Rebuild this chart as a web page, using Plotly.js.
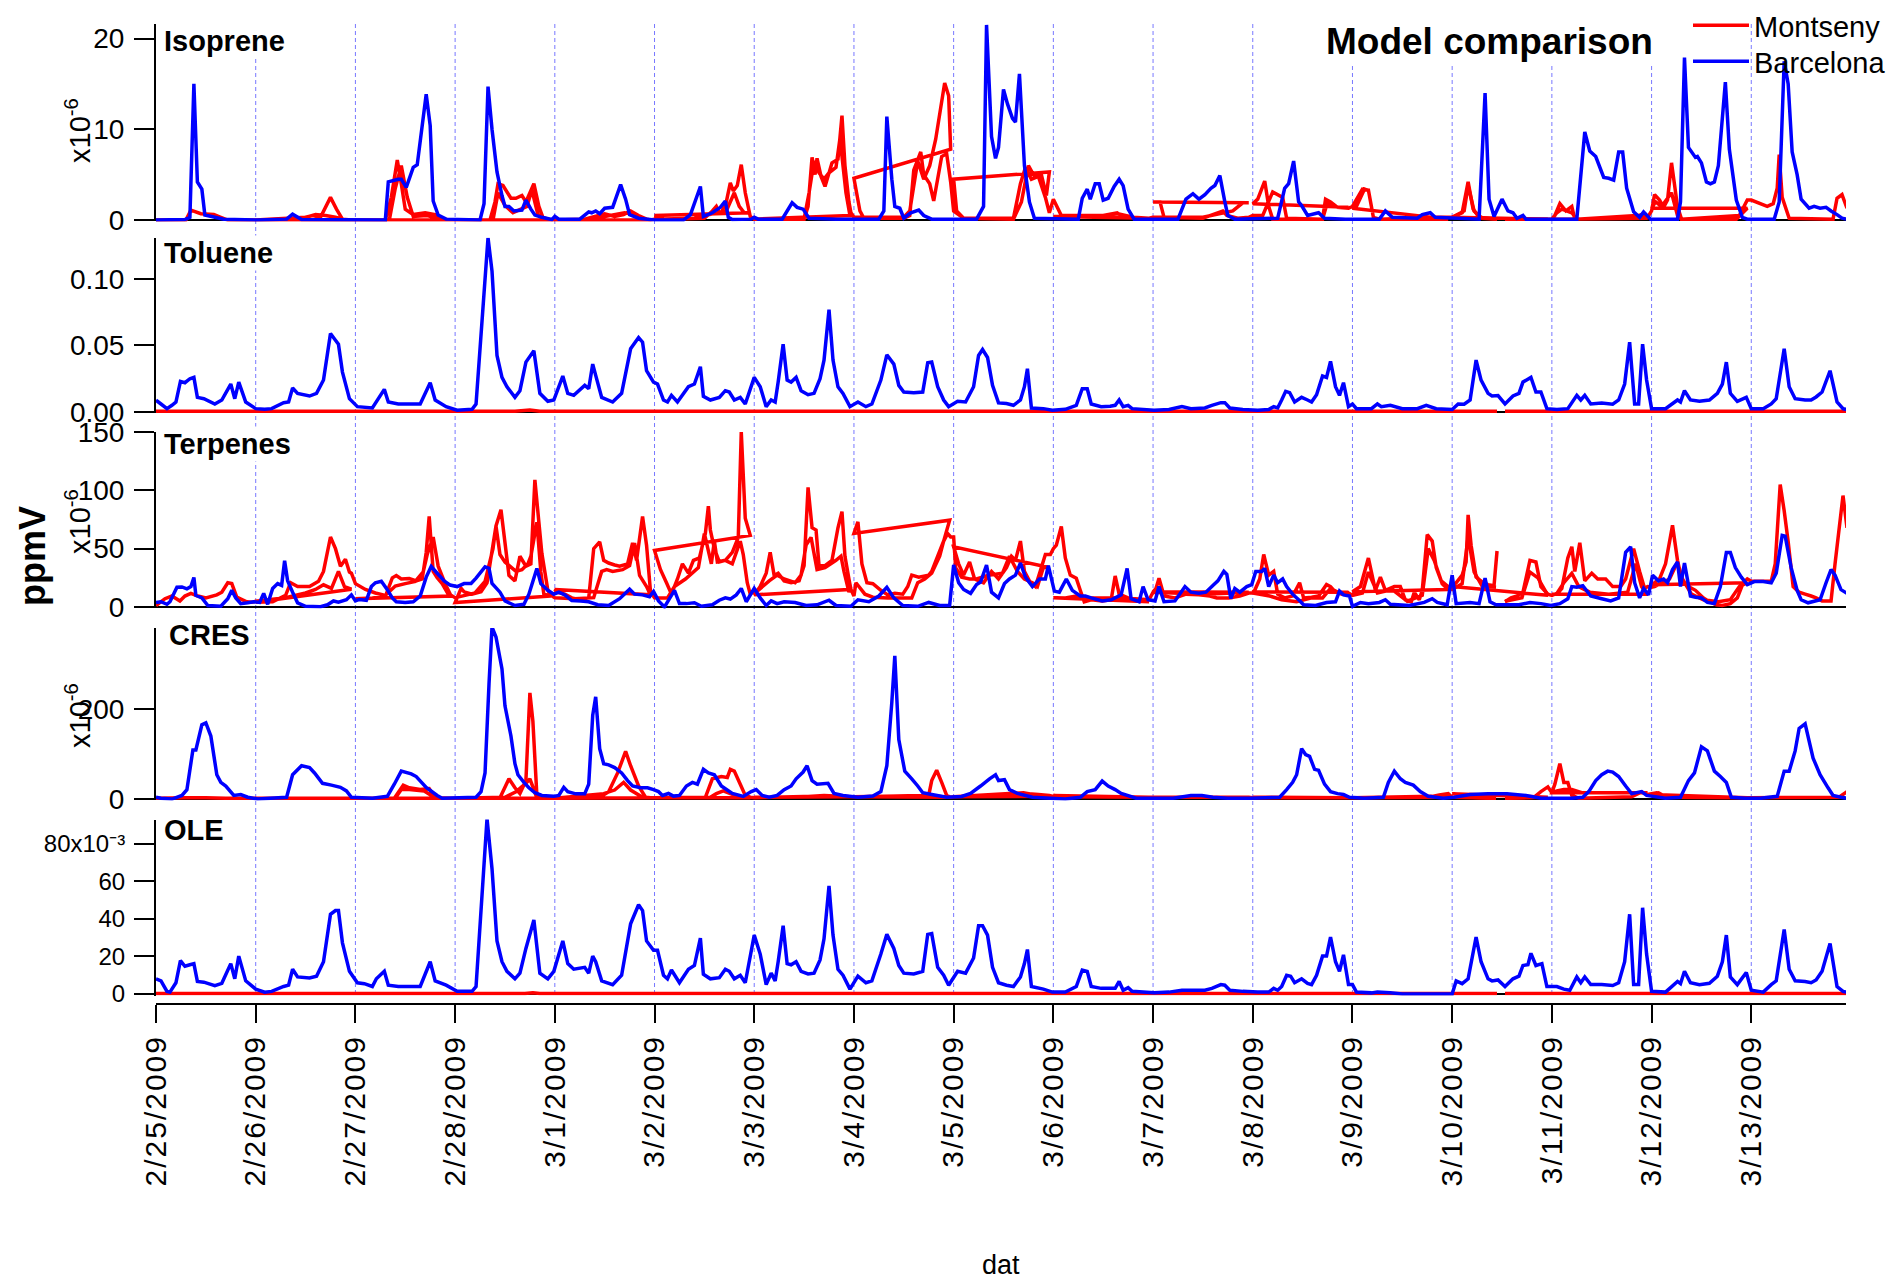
<!DOCTYPE html>
<html><head><meta charset="utf-8">
<script src="https://cdn.plot.ly/plotly-3.0.1.min.js"></script>
<style>html,body{margin:0;padding:0;background:#fff}
.xtick text{letter-spacing:2px}</style>
</head><body>
<div id="chart" style="width:1896px;height:1284px"></div>
<script>
// ---------------- DATA (time in days since 2/25/2009 00:00) ----------------
const dayTicks = ['2/25/2009','2/26/2009','2/27/2009','2/28/2009','3/1/2009','3/2/2009','3/3/2009','3/4/2009','3/5/2009','3/6/2009','3/7/2009','3/8/2009','3/9/2009','3/10/2009','3/11/2009','3/12/2009','3/13/2009'];
const panelNames = ['Isoprene','Toluene','Terpenes','CRES','OLE'];
const seriesNames = ['Montseny','Barcelona'];

// Isoprene (x10^-6 ppmV)
const isoBcn = [[0,0],[0.29,0.05],[0.34,0.3],[0.38,15.0],[0.415,4.2],[0.46,3.4],[0.49,0.55],[0.68,0.1],[1.02,0],[1.31,0.1],[1.37,0.65],[1.46,0.05],[2.30,0],[2.33,4.2],[2.43,4.5],[2.46,4.5],[2.51,3.6],[2.58,5.8],[2.62,6.1],[2.71,13.85],[2.75,10.4],[2.78,2.1],[2.83,0.55],[2.91,0.1],[3.25,0],[3.29,1.8],[3.33,14.7],[3.37,10.0],[3.42,5.3],[3.47,2.7],[3.50,1.5],[3.54,1.5],[3.59,1.0],[3.67,1.1],[3.71,2.2],[3.76,1.2],[3.80,0.55],[3.87,0.3],[3.97,0.05],[4.0,0.4],[4.04,0.1],[4.25,0.1],[4.34,0.9],[4.37,0.8],[4.41,1.0],[4.45,0.7],[4.50,1.3],[4.58,1.4],[4.66,3.9],[4.71,2.3],[4.75,0.6],[4.84,0.2],[5.0,0],[5.29,0],[5.36,0.6],[5.46,3.7],[5.49,0.4],[5.58,0.8],[5.66,1.4],[5.71,2.1],[5.74,0.3],[5.78,0.05],[5.97,0.1],[6.0,0.3],[6.04,0.1],[6.28,0.1],[6.38,1.9],[6.43,1.4],[6.49,1.2],[6.55,0.2],[6.82,0.1],[7.25,0.1],[7.30,1.0],[7.33,11.4],[7.38,4.5],[7.41,1.5],[7.46,1.3],[7.50,0.2],[7.57,0.8],[7.65,1.1],[7.70,0.5],[7.78,0.1],[8.23,0.1],[8.30,1.5],[8.33,21.5],[8.38,9.2],[8.42,6.8],[8.45,8.0],[8.50,14.4],[8.54,12.8],[8.59,11.2],[8.62,10.8],[8.66,16.1],[8.71,6.0],[8.76,2.0],[8.81,0.2],[9.25,0.1],[9.29,2.4],[9.34,3.4],[9.37,2.3],[9.42,4.0],[9.46,4.0],[9.50,2.2],[9.55,2.4],[9.61,3.7],[9.66,4.5],[9.70,3.8],[9.75,1.2],[9.81,0.1],[10.25,0.1],[10.33,2.3],[10.40,2.9],[10.46,2.3],[10.52,2.8],[10.58,3.5],[10.62,3.8],[10.67,4.9],[10.72,2.0],[10.75,0.5],[10.82,0.1],[11.25,0.2],[11.32,3.5],[11.36,4.0],[11.41,6.5],[11.46,2.0],[11.49,1.6],[11.55,0.5],[11.66,0.8],[11.72,0.2],[11.93,0.1],[12.27,0.1],[12.33,1.0],[12.40,0.3],[12.65,0.2],[12.70,0.6],[12.78,0.8],[12.83,0.3],[13.27,0.1],[13.33,14.0],[13.37,2.3],[13.42,0.4],[13.50,2.3],[13.56,1.0],[13.61,0.8],[13.65,0.2],[13.71,0.5],[13.74,0.1],[14.25,0.1],[14.33,9.7],[14.38,7.6],[14.44,7.0],[14.52,4.7],[14.57,4.6],[14.62,4.4],[14.67,7.5],[14.71,7.5],[14.75,3.5],[14.82,0.9],[14.88,0.3],[14.92,0.9],[14.99,0.1],[15.26,0.1],[15.29,2.0],[15.33,17.9],[15.37,8.0],[15.44,6.9],[15.46,7.0],[15.50,6.3],[15.55,4.2],[15.59,4.0],[15.63,4.2],[15.67,6.0],[15.74,15.2],[15.78,7.8],[15.85,2.2],[15.91,0.3],[15.96,0.1],[16.23,0.1],[16.28,2.0],[16.33,17.5],[16.37,15.0],[16.41,7.5],[16.46,5.0],[16.50,2.3],[16.58,1.3],[16.63,1.5],[16.69,1.3],[16.75,1.4],[16.80,1.0],[16.86,0.6],[16.91,0.2],[16.96,0.1]];
// Montseny model: first-day and second-day forecast of each daily 48 h run
const isoMontDay1 = [[0,0],[0.3,0],[0.35,1.1],[0.45,0.7],[0.58,0.6],[0.65,0.3],[0.72,0],[0.96,0],[1,0],[1.4,0],[1.46,0.2],[1.57,0.5],[1.65,0.3],[1.75,2.5],[1.81,1.2],[1.87,0.1],[1.96,0],[2,0],[2.3,0],[2.36,2.5],[2.42,6.6],[2.46,4],[2.5,1.2],[2.58,0.6],[2.7,0.8],[2.8,0.6],[2.88,0.1],[2.96,0],[3,0],[3.35,0],[3.4,2],[3.43,4],[3.48,3.8],[3.56,2.4],[3.61,2.4],[3.67,2.7],[3.71,2],[3.79,4],[3.84,1.5],[3.88,0.3],[3.96,0],[4,0],[4.3,0.1],[4.5,0.7],[4.6,0.4],[4.69,0.6],[4.76,1],[4.84,0.5],[4.92,0.1],[4.96,0],[5,0.5],[5.1,0.1],[5.5,0.2],[5.58,1],[5.62,1.5],[5.66,0.6],[5.72,2],[5.76,4.1],[5.79,3.2],[5.83,3.8],[5.87,6.1],[5.91,3],[5.96,0.4],[6,0.1],[6.5,0.1],[6.54,1.5],[6.58,6.9],[6.61,5],[6.63,6.8],[6.67,4.8],[6.71,3.7],[6.78,6.3],[6.84,6.7],[6.88,11.5],[6.91,6],[6.95,2],[6.97,0.8],[7,4.6],[7.06,1],[7.1,0.2],[7.5,0.2],[7.56,0.5],[7.6,5.5],[7.67,7.5],[7.7,5],[7.76,4],[7.8,2.1],[7.88,7],[7.93,7.3],[7.97,4.2],[8,4.5],[8.03,1],[8.1,0.2],[8.6,0.2],[8.67,4],[8.72,5.8],[8.78,4.5],[8.85,4.8],[8.92,2.5],[8.96,0.8],[9,0.4],[9.5,0.5],[9.64,0.8],[9.7,0.3],[9.96,0.2],[10,2],[10.07,2],[10.11,0.3],[10.5,0.2],[10.7,1],[10.74,0.5],[10.85,0.2],[10.96,0.3],[11,1.8],[11.05,2.3],[11.12,4.3],[11.16,1.5],[11.2,0.1],[11.7,0.1],[11.73,2.3],[11.78,2],[11.85,1.4],[11.96,1.3],[12,1.3],[12.04,1.5],[12.12,3.4],[12.16,3.3],[12.21,0.3],[12.27,0.1],[12.84,0.3],[12.96,0.3],[13,0.3],[13.12,1],[13.16,3.8],[13.22,1],[13.3,0.2],[13.45,0.1],[13.49,null],[13.53,0.1],[13.96,0.1],[14,0.1],[14.05,0.8],[14.1,1.2],[14.2,0.8],[14.25,0.1],[14.85,0.5],[14.96,0.3],[15,1.3],[15.04,2],[15.1,1.5],[15.2,3],[15.26,0.5],[15.3,0.1],[15.88,0.5],[15.96,2.2],[16,2.2],[16.16,1.5],[16.22,1.8],[16.26,3.5],[16.28,7.2],[16.31,2.5],[16.38,0.2],[16.82,0.1],[16.86,2.4],[16.91,2.8],[16.96,1.3]];
const isoMontDay2 = [[1,0],[1.5,0.3],[1.6,0.6],[1.7,0.5],[1.8,0.3],[1.9,0],[1.96,0],[2,0],[2.34,0],[2.4,3.5],[2.46,6],[2.52,2.5],[2.58,0.4],[2.72,0.5],[2.85,0.1],[2.96,0],[3,0],[3.38,0],[3.43,3],[3.5,1.6],[3.58,0.8],[3.66,1.2],[3.72,1.5],[3.77,3.3],[3.83,0.6],[3.9,0],[3.96,0],[4,0],[4.35,0.1],[4.5,0.4],[4.7,0.8],[4.8,0.6],[4.9,0.1],[4.96,0],[5,0.1],[5.4,0.2],[5.55,0.6],[5.65,0.8],[5.72,1],[5.8,3],[5.85,1.5],[5.9,0.8],[5.96,0.8],[6,0.1],[6.5,0.1],[6.55,3],[6.6,6.5],[6.65,5.2],[6.7,4.5],[6.75,5.2],[6.82,5.8],[6.86,9],[6.92,3],[6.96,0.5],[7,0.3],[7.5,0.3],[7.56,1],[7.64,6.5],[7.7,4.5],[7.76,6],[7.82,8.9],[7.91,15.1],[7.95,13.7],[7.97,7.8],[8,1],[8.1,0.2],[8.6,0.1],[8.68,2],[8.75,6],[8.8,5],[8.88,5],[8.93,2.7],[8.96,5.3],[9,2.3],[9.08,0.5],[9.5,0.5],[9.65,0.7],[9.8,0.3],[9.96,0.2],[10,0.3],[10.5,0.3],[10.8,1],[10.9,1.9],[10.96,1.9],[11,0.5],[11.1,0.5],[11.2,3.1],[11.3,2.5],[11.34,0.2],[11.7,0.1],[11.75,2],[11.85,1.4],[11.96,1.4],[12,1.5],[12.1,3.4],[12.16,3.3],[12.21,0.3],[12.27,0.1],[12.96,0.1],[13,0.3],[13.1,0.8],[13.16,4.2],[13.21,1.2],[13.27,0.3],[13.45,0.1],[13.49,null],[13.53,0.1],[13.96,0.1],[14,0.1],[14.03,0.5],[14.08,1.8],[14.14,1],[14.2,1.5],[14.23,0.1],[14.8,0.3],[14.9,0.6],[14.96,0.2],[15,1],[15.03,2.8],[15.08,2.2],[15.12,1.4],[15.16,2.2],[15.2,6.3],[15.26,1.5],[15.3,0.1],[15.85,0.1],[15.96,1.3]];

// Toluene (ppmV)
const tolBcn = [[0,0.0088],[0.05,0.006],[0.11,0.0025],[0.16,0.005],[0.2,0.0075],[0.245,0.023],[0.29,0.022],[0.34,0.025],[0.38,0.026],[0.415,0.011],[0.48,0.010],[0.59,0.006],[0.66,0.009],[0.75,0.021],[0.79,0.010],[0.83,0.0225],[0.9,0.0075],[1.0,0.0025],[1.09,0.002],[1.16,0.0025],[1.28,0.007],[1.33,0.0075],[1.37,0.018],[1.42,0.014],[1.54,0.012],[1.61,0.014],[1.68,0.024],[1.75,0.059],[1.8,0.054],[1.83,0.051],[1.87,0.030],[1.94,0.010],[2.02,0.004],[2.17,0.003],[2.29,0.017],[2.33,0.0075],[2.43,0.006],[2.65,0.006],[2.75,0.022],[2.8,0.009],[2.91,0.004],[3.02,0.0013],[3.17,0.002],[3.21,0.006],[3.33,0.131],[3.37,0.106],[3.42,0.0425],[3.47,0.026],[3.52,0.019],[3.6,0.011],[3.65,0.016],[3.71,0.0375],[3.79,0.046],[3.85,0.014],[3.93,0.008],[3.99,0.009],[4.08,0.027],[4.13,0.014],[4.19,0.0125],[4.3,0.02],[4.34,0.0175],[4.38,0.036],[4.41,0.0275],[4.47,0.011],[4.58,0.0075],[4.67,0.014],[4.76,0.0475],[4.84,0.056],[4.88,0.0525],[4.92,0.031],[4.99,0.0225],[5.03,0.021],[5.09,0.009],[5.13,0.0075],[5.17,0.0125],[5.23,0.0075],[5.34,0.019],[5.4,0.021],[5.46,0.034],[5.49,0.0118],[5.56,0.009],[5.65,0.011],[5.71,0.016],[5.75,0.015],[5.8,0.009],[5.86,0.011],[5.91,0.006],[6.0,0.026],[6.06,0.019],[6.12,0.004],[6.17,0.009],[6.21,0.0075],[6.24,0.0225],[6.29,0.051],[6.33,0.024],[6.37,0.0225],[6.42,0.026],[6.47,0.016],[6.54,0.013],[6.6,0.014],[6.66,0.025],[6.7,0.039],[6.75,0.077],[6.79,0.039],[6.84,0.019],[6.89,0.014],[6.96,0.004],[7.04,0.0075],[7.12,0.004],[7.18,0.006],[7.27,0.024],[7.33,0.043],[7.4,0.036],[7.45,0.02],[7.5,0.015],[7.6,0.0145],[7.69,0.015],[7.74,0.037],[7.78,0.0375],[7.84,0.019],[7.9,0.009],[7.95,0.004],[8.04,0.008],[8.12,0.0075],[8.2,0.019],[8.25,0.0425],[8.29,0.047],[8.34,0.041],[8.39,0.02],[8.45,0.0068],[8.53,0.0063],[8.6,0.005],[8.67,0.009],[8.71,0.019],[8.74,0.0325],[8.78,0.003],[8.9,0.0025],[8.99,0.0013],[9.12,0.002],[9.23,0.005],[9.29,0.0175],[9.34,0.0175],[9.38,0.006],[9.48,0.004],[9.57,0.0043],[9.62,0.005],[9.66,0.009],[9.7,0.004],[9.75,0.005],[9.79,0.0025],[10.01,0.0013],[10.16,0.0018],[10.29,0.004],[10.38,0.0025],[10.52,0.003],[10.59,0.005],[10.68,0.007],[10.72,0.007],[10.77,0.003],[10.9,0.0018],[11.05,0.0013],[11.16,0.0018],[11.21,0.004],[11.25,0.003],[11.29,0.009],[11.33,0.0155],[11.37,0.0145],[11.42,0.0075],[11.49,0.011],[11.55,0.009],[11.59,0.0075],[11.64,0.013],[11.7,0.027],[11.74,0.026],[11.78,0.038],[11.83,0.019],[11.87,0.0125],[11.91,0.022],[11.96,0.004],[12.0,0.006],[12.04,0.0025],[12.19,0.0025],[12.25,0.006],[12.29,0.004],[12.38,0.005],[12.5,0.0025],[12.65,0.0025],[12.74,0.005],[12.84,0.0025],[13.0,0.0018],[13.06,0.006],[13.12,0.0058],[13.18,0.009],[13.24,0.039],[13.29,0.024],[13.36,0.014],[13.4,0.012],[13.46,0.0123],[13.53,0.006],[13.61,0.012],[13.67,0.014],[13.71,0.0225],[13.79,0.026],[13.84,0.015],[13.89,0.015],[13.95,0.0025],[14.05,0.0018],[14.16,0.0025],[14.25,0.0125],[14.29,0.009],[14.33,0.0125],[14.39,0.006],[14.5,0.0068],[14.61,0.0058],[14.67,0.009],[14.73,0.021],[14.78,0.0525],[14.83,0.006],[14.87,0.006],[14.91,0.051],[14.95,0.024],[15.0,0.0025],[15.14,0.0025],[15.26,0.009],[15.29,0.0075],[15.33,0.016],[15.39,0.009],[15.48,0.008],[15.58,0.009],[15.66,0.014],[15.71,0.021],[15.75,0.0375],[15.79,0.014],[15.86,0.008],[15.95,0.011],[16.0,0.0025],[16.12,0.0025],[16.2,0.006],[16.25,0.010],[16.33,0.0475],[16.38,0.019],[16.44,0.010],[16.54,0.009],[16.6,0.009],[16.65,0.0113],[16.71,0.015],[16.79,0.031],[16.86,0.0075],[16.92,0.0025],[16.96,0.0018]];
const tolMont = [[0,0.0006],[3.6,0.0006],[3.75,0.0015],[3.85,0.0006],[13.45,0.0006],[13.49,null],[13.53,0.0006],[16.96,0.0006]];

// Terpenes (x10^-6 ppmV)
const terpBcn = [[0,3.9],[0.05,4.5],[0.11,2.3],[0.14,4.5],[0.21,16.9],[0.26,17.2],[0.31,15.6],[0.35,17.5],[0.38,25.3],[0.4,10],[0.46,7.8],[0.52,1.3],[0.65,0.6],[0.72,7.1],[0.76,14.3],[0.8,7.8],[0.85,2.9],[0.92,3.6],[0.98,4.5],[1.04,3.9],[1.08,11.7],[1.12,2.3],[1.17,15.9],[1.22,20.1],[1.26,18.5],[1.29,39.6],[1.32,22.4],[1.37,12.7],[1.42,3.6],[1.5,0.6],[1.65,0.3],[1.72,1.9],[1.78,5.2],[1.83,4.2],[1.91,6.2],[1.96,10.4],[2.0,5.2],[2.04,6.5],[2.11,5.8],[2.16,17.5],[2.2,20.8],[2.26,22],[2.32,14.9],[2.37,7.8],[2.41,4.5],[2.5,3.9],[2.58,4.5],[2.65,9.4],[2.71,25.6],[2.76,34.7],[2.82,28.9],[2.89,22.4],[2.95,18.8],[3.02,17.5],[3.09,20.1],[3.16,20.1],[3.21,24.7],[3.3,34.4],[3.34,33.1],[3.37,20.1],[3.45,12.7],[3.5,5.2],[3.6,1.3],[3.69,2.3],[3.74,11],[3.82,33],[3.86,20],[3.93,14.3],[3.99,11],[4.04,12.7],[4.1,10.4],[4.17,5.5],[4.26,5.2],[4.34,4.5],[4.43,1.9],[4.54,1.3],[4.65,7.1],[4.75,15.3],[4.8,11],[4.88,10.4],[4.95,8.8],[4.99,13.3],[5.04,5.2],[5.1,0],[5.15,7.1],[5.2,14.3],[5.25,2.9],[5.32,2.9],[5.4,3.6],[5.47,0.6],[5.58,1.9],[5.65,5.8],[5.71,7.8],[5.76,6.8],[5.82,10.4],[5.87,15.9],[5.92,4.5],[6.0,15.9],[6.06,7.8],[6.12,1.3],[6.17,5.2],[6.23,2.9],[6.3,4.5],[6.41,3.9],[6.52,1.3],[6.63,1.9],[6.75,5.8],[6.82,1.3],[6.97,0.6],[7.04,6.2],[7.15,4.5],[7.25,9.4],[7.33,16.9],[7.4,7.8],[7.49,1.3],[7.64,0.6],[7.75,3.9],[7.86,1.3],[7.96,1.3],[8.0,36],[8.05,20.8],[8.1,15],[8.17,11.7],[8.23,19.2],[8.27,21.4],[8.33,36],[8.38,12.7],[8.45,7.8],[8.51,20.1],[8.56,24],[8.62,27.3],[8.67,37.7],[8.72,25.6],[8.79,17.5],[8.86,24],[8.92,24],[8.95,35.4],[9.01,13.6],[9.06,12.7],[9.13,24],[9.19,14.3],[9.27,9.4],[9.32,9.4],[9.38,7.8],[9.49,5.2],[9.58,6.2],[9.68,10.4],[9.74,33.1],[9.78,7.1],[9.86,4.5],[9.9,17.5],[9.95,6.2],[10.02,5.2],[10.06,17.5],[10.11,4.5],[10.22,5.2],[10.32,17.5],[10.38,12.7],[10.46,11.7],[10.53,12.7],[10.6,18.5],[10.65,22.4],[10.71,30.5],[10.74,27.9],[10.78,7.1],[10.82,15.9],[10.87,12.7],[10.94,17.5],[10.99,19.2],[11.03,30.5],[11.09,30.5],[11.12,33.1],[11.16,17.5],[11.21,27.3],[11.25,20.8],[11.3,24],[11.34,17.5],[11.4,11],[11.46,6.2],[11.51,1.9],[11.63,1.3],[11.74,3.9],[11.83,4.5],[11.87,13.6],[11.91,10.4],[11.97,9.4],[12.0,0.6],[12.08,3.9],[12.16,2.9],[12.27,3.9],[12.33,6.2],[12.38,2.3],[12.57,1.3],[12.72,3.9],[12.8,7.1],[12.85,3.9],[12.95,1.9],[13.0,27.3],[13.04,2.9],[13.18,3.9],[13.27,2.9],[13.33,24.7],[13.38,4.5],[13.44,1.9],[13.67,1.9],[13.78,3.9],[13.89,2.9],[13.99,1.3],[14.08,2.9],[14.16,7.1],[14.2,17.5],[14.25,16.9],[14.31,18.2],[14.39,9.4],[14.5,7.1],[14.59,5.2],[14.67,7.8],[14.74,46.8],[14.79,51.6],[14.83,20.8],[14.88,7.8],[14.92,15.9],[14.97,10.4],[15.01,27.3],[15.07,22.4],[15.12,24],[15.16,20.8],[15.21,32.1],[15.26,38.6],[15.29,17.5],[15.33,37.7],[15.39,9.4],[15.44,8.4],[15.5,7.8],[15.56,3.9],[15.63,2.9],[15.69,17.5],[15.75,46.8],[15.79,46.8],[15.84,33.8],[15.9,25.6],[15.96,19.2],[16.03,21.8],[16.12,21.8],[16.2,20.8],[16.25,28.9],[16.31,61.4],[16.34,60.7],[16.4,33.8],[16.46,14.3],[16.5,6.2],[16.57,3.6],[16.69,6.2],[16.75,20.8],[16.8,32.1],[16.84,27.3],[16.9,14.9],[16.96,11.7]];
const terpMontDay1 = [[0,1.3],[0.09,7.1],[0.16,9.4],[0.24,5.2],[0.29,9.4],[0.35,11.7],[0.42,9.4],[0.5,7.8],[0.61,10.4],[0.66,12.7],[0.72,20.8],[0.76,20.1],[0.81,8.4],[0.91,4.5],[0.96,4],[1,4],[1.17,4.5],[1.3,10],[1.35,20.8],[1.42,17.5],[1.54,17.5],[1.63,22],[1.68,30.5],[1.75,60],[1.8,50],[1.85,35],[1.9,41],[1.94,30],[1.96,29],[2,7],[2.17,7.8],[2.3,9],[2.37,25],[2.41,27],[2.46,24],[2.54,24.5],[2.61,22.4],[2.67,24],[2.71,46.8],[2.74,77.6],[2.78,30.5],[2.82,25],[2.87,20],[2.93,11],[2.96,10],[3,3.9],[3.06,16],[3.09,13],[3.17,11],[3.26,13],[3.32,20.8],[3.41,69.5],[3.46,83.4],[3.54,27],[3.6,22.4],[3.65,43.5],[3.71,35],[3.76,37],[3.8,109],[3.84,72.7],[3.87,46],[3.93,14.3],[3.96,10],[4,15],[4.02,12.7],[4.1,11],[4.17,7.8],[4.25,6.2],[4.34,7.8],[4.39,50],[4.45,55.8],[4.49,40],[4.54,37.7],[4.6,36],[4.65,35],[4.73,37],[4.78,54.9],[4.82,40],[4.88,77.6],[4.92,53],[4.96,12.7],[5,48.4],[5.06,32],[5.12,20.8],[5.17,11],[5.23,24],[5.28,37],[5.34,29],[5.39,40],[5.45,42],[5.51,63],[5.54,86.4],[5.56,66],[5.6,50],[5.65,38.6],[5.71,40],[5.78,37],[5.86,56.5],[5.89,45],[5.93,20.8],[5.96,11],[6,10.4],[6.06,17.5],[6.12,29],[6.16,46.8],[6.2,27],[6.24,29],[6.3,22.4],[6.37,20.8],[6.45,22.4],[6.5,35.4],[6.54,102.6],[6.58,67.9],[6.62,66],[6.65,35.4],[6.71,35.4],[6.78,40],[6.84,67.9],[6.88,81.8],[6.91,43.5],[6.95,24],[6.97,15],[7,63],[7.04,73],[7.08,37],[7.13,20.8],[7.19,20],[7.27,14.3],[7.34,10.4],[7.41,11.7],[7.49,11],[7.54,17.5],[7.58,27.3],[7.65,25.6],[7.75,27.3],[7.78,30.5],[7.84,43.5],[7.9,56.5],[7.94,63],[7.97,60],[8,51.6],[8.05,37],[8.1,27.3],[8.16,38.6],[8.21,24],[8.3,20.8],[8.38,30.5],[8.45,24],[8.53,33.8],[8.58,43.5],[8.62,40],[8.67,56.5],[8.71,30.5],[8.77,20.8],[8.82,17.5],[8.88,33.8],[8.92,45],[8.97,45],[9,8],[9.12,7.8],[9.23,9.4],[9.38,7.8],[9.64,7.8],[9.82,7.1],[9.96,6.2],[10,13],[10.03,16],[10.06,24.7],[10.11,9.4],[10.22,7.8],[10.33,11],[10.46,10.4],[10.57,9.4],[10.64,7.8],[10.76,7.8],[10.87,9.4],[10.96,12],[11,13],[11.02,14.3],[11.07,24],[11.11,45],[11.16,27.3],[11.21,30.5],[11.25,11],[11.32,7.8],[11.4,9.4],[11.47,20.8],[11.51,7.8],[11.59,8.4],[11.66,9.4],[11.74,19.2],[11.78,17.5],[11.83,12.7],[11.91,11.7],[11.96,12],[12,13],[12.08,17.5],[12.16,42],[12.23,14.3],[12.28,25.6],[12.33,14.3],[12.42,17.5],[12.48,17.5],[12.53,6.2],[12.59,4.5],[12.62,12.7],[12.67,6.2],[12.7,14.3],[12.75,62],[12.8,56.5],[12.84,33.8],[12.89,22.4],[12.96,17.5],[13,17.5],[13.04,20.8],[13.1,27.3],[13.14,38.6],[13.16,79],[13.19,53],[13.24,25.6],[13.31,20.8],[13.36,19.2],[13.42,18.2],[13.45,48],[13.49,null],[13.53,4.5],[13.59,7.8],[13.65,9.4],[13.71,12.7],[13.78,40],[13.84,38.6],[13.89,17.5],[13.96,11],[14,11],[14.05,11],[14.1,15.9],[14.16,42],[14.2,51.6],[14.23,30.5],[14.28,55],[14.33,22.4],[14.4,29],[14.46,24],[14.54,24],[14.61,17.5],[14.69,17.5],[14.74,24],[14.82,50],[14.88,30.5],[14.93,15.9],[14.96,17.5],[15,19],[15.03,20.8],[15.08,24],[15.14,37],[15.21,70],[15.26,40],[15.31,20.8],[15.37,17.5],[15.44,14.3],[15.52,7.8],[15.58,4.5],[15.65,1.9],[15.71,1.3],[15.79,2.9],[15.86,7.8],[15.92,20.8],[15.96,24],[16,22],[16.05,22],[16.12,22],[16.2,22],[16.24,37],[16.29,105],[16.33,82.5],[16.37,56],[16.42,17.5],[16.48,12.7],[16.54,11],[16.6,9.4],[16.65,7.8],[16.71,5.2],[16.8,5.2],[16.84,37],[16.92,95.5],[16.96,67.9]];
const terpMontDay2 = [[1,5],[1.3,8],[1.5,12],[1.6,15],[1.68,19],[1.76,16],[1.83,30.5],[1.89,17.5],[1.96,15.3],[2,20],[2.1,15],[2.2,12],[2.3,10],[2.4,18],[2.5,20],[2.6,22],[2.68,30],[2.72,45],[2.78,60],[2.83,35],[2.9,20],[2.96,9.4],[3,8],[3.1,10],[3.2,12],[3.3,22],[3.38,50],[3.41,69.5],[3.45,45],[3.5,38.6],[3.61,30.5],[3.67,32],[3.73,37],[3.76,43.5],[3.82,72.7],[3.86,30],[3.89,11],[3.96,9.4],[4,8],[4.2,7],[4.39,8],[4.47,30.5],[4.52,32],[4.58,30.5],[4.68,32],[4.75,35.4],[4.8,54.9],[4.85,27],[4.92,17.5],[4.96,10.4],[5,8],[5.06,7.8],[5.13,7.8],[5.2,17.5],[5.31,24],[5.44,33.8],[5.5,63],[5.57,37],[5.6,56.5],[5.63,38.6],[5.71,40],[5.78,46.8],[5.84,59.7],[5.87,150],[5.91,76],[5.96,61.4],[6,14],[6.04,14.3],[6.15,22.4],[6.23,27.3],[6.3,24],[6.41,20.8],[6.47,27.3],[6.52,53],[6.57,59.7],[6.63,32],[6.71,33.8],[6.82,40],[6.87,43.5],[6.9,30.5],[6.95,12.7],[6.96,15],[7,9.4],[7.02,20.8],[7.11,11],[7.19,8.4],[7.34,7.8],[7.49,7.8],[7.58,7.8],[7.64,20.8],[7.71,24],[7.78,29],[7.86,43.5],[7.9,56.5],[7.96,74.4],[8,60],[8.02,33.8],[8.08,25.6],[8.16,24],[8.23,24],[8.35,27.3],[8.49,29],[8.56,43.5],[8.64,30.5],[8.71,24],[8.79,20.8],[8.84,17.5],[8.9,33.8],[8.96,33.8],[9,50],[9.03,53],[9.08,69],[9.12,42],[9.17,27.3],[9.23,24.7],[9.27,14.3],[9.31,4.5],[9.38,6.2],[9.49,5.2],[9.58,6.2],[9.62,26.6],[9.66,11],[9.75,7.8],[9.86,5.2],[9.96,4.5],[10,12.7],[10.2,12],[10.5,11],[10.8,12],[10.96,12.7],[11,12],[11.17,9.4],[11.29,6.2],[11.44,4.5],[11.59,7.8],[11.7,7.8],[11.78,15.9],[11.89,11],[11.96,12.7],[12,10],[12.1,12],[12.16,30],[12.25,12],[12.4,15],[12.55,5],[12.7,10],[12.76,50],[12.82,40],[12.9,20],[12.96,15],[13,15],[13.1,20],[13.16,60],[13.22,30],[13.3,18],[13.44,17],[13.49,null],[13.53,5],[13.7,8],[13.78,30],[13.86,25],[13.96,10],[14,10],[14.05,11.7],[14.12,20.8],[14.2,28.9],[14.27,17.5],[14.38,12.7],[14.57,11],[14.76,12.7],[14.84,37],[14.9,17.5],[14.96,11],[15,17],[15.03,17.5],[15.18,24],[15.26,38.6],[15.31,24],[15.4,11],[15.52,6.2],[15.67,4.5],[15.79,6.2],[15.88,17.5],[15.96,20.8]];

// CRES (x10^-6 ppmV)
const cresBcn = [[0,4],[0.05,1.7],[0.16,0],[0.26,8],[0.31,20.7],[0.37,109],[0.4,109],[0.46,165],[0.5,169],[0.55,140],[0.61,54],[0.65,37],[0.7,29],[0.78,8],[0.85,10],[0.92,4],[1.02,0],[1.31,4],[1.37,54],[1.46,74],[1.54,70],[1.59,58],[1.67,35],[1.76,31],[1.85,26],[1.91,18],[1.96,4],[2.17,1.7],[2.32,6],[2.39,33],[2.46,62],[2.56,56],[2.61,50],[2.71,26],[2.82,8],[2.87,1.7],[3.21,4],[3.26,16.5],[3.3,58],[3.34,256],[3.37,382],[3.41,360],[3.47,289],[3.5,207],[3.56,140],[3.6,78.5],[3.63,54],[3.69,37],[3.74,25],[3.8,14],[3.87,8],[3.99,6],[4.04,8],[4.09,26],[4.13,16.5],[4.21,11.6],[4.3,11.6],[4.34,33],[4.38,186],[4.41,227],[4.45,112],[4.49,78.5],[4.54,76],[4.6,70],[4.67,58],[4.73,41],[4.78,29],[4.86,25],[4.93,25],[4.99,21],[5.04,16.5],[5.08,8],[5.14,12.4],[5.19,6.6],[5.25,8],[5.32,29],[5.38,37],[5.43,33],[5.49,66],[5.54,58],[5.6,54],[5.67,29],[5.78,12.4],[5.89,5.8],[5.97,16.5],[6.02,21],[6.08,8],[6.15,4],[6.23,8],[6.3,21],[6.37,29],[6.42,45],[6.49,60],[6.53,74],[6.58,41],[6.63,33],[6.74,35],[6.8,12.4],[6.89,8],[7.04,4],[7.19,6.6],[7.27,16.5],[7.33,74],[7.38,215],[7.41,318],[7.45,132],[7.51,62],[7.58,45],[7.64,29],[7.69,14],[7.78,10],[7.93,4],[8.08,5.8],[8.17,12.4],[8.27,29],[8.36,45],[8.42,54],[8.45,41],[8.51,43],[8.56,21],[8.64,12.4],[8.79,4],[8.97,1.7],[9.12,0],[9.27,4],[9.34,16.5],[9.42,21],[9.49,40],[9.55,29],[9.62,21],[9.68,12.4],[9.83,1.7],[10.2,1.7],[10.38,8],[10.49,8],[10.6,4],[10.75,1.7],[10.98,1.7],[11.27,4],[11.34,21],[11.4,37],[11.44,54],[11.49,112],[11.53,99],[11.57,95],[11.62,66],[11.66,64],[11.72,33],[11.78,16.5],[11.85,12],[11.91,10],[11.97,4],[12.12,1.7],[12.31,4],[12.36,37],[12.42,62],[12.48,45],[12.53,37],[12.61,31],[12.68,16.5],[12.76,6],[12.91,1.7],[13.02,4],[13.18,10],[13.36,12],[13.55,12],[13.74,8],[13.89,1.7],[14.2,1.7],[14.31,4],[14.37,16.5],[14.44,41],[14.5,54],[14.56,62],[14.61,60],[14.67,50],[14.74,29],[14.8,12],[14.9,16.5],[14.95,8],[15.14,1.7],[15.29,4],[15.37,41],[15.43,58],[15.5,116],[15.56,107],[15.63,62],[15.69,50],[15.75,37],[15.8,4],[15.94,1.7],[16.09,1.7],[16.26,6],[16.33,62],[16.38,62],[16.44,107],[16.48,157],[16.54,167],[16.62,91],[16.69,54],[16.77,25],[16.82,8],[16.9,4],[16.96,1.7]];
const cresMontDay1 = [[0,2],[0.3,3],[0.5,3],[0.7,2],[0.96,2],[1,2],[1.96,2],[2,2],[2.39,2],[2.48,31],[2.54,25],[2.65,21],[2.74,23],[2.8,3],[2.96,2],[3,2],[3.45,3],[3.54,45],[3.6,25],[3.65,12],[3.71,41],[3.75,236],[3.78,173],[3.82,8],[3.84,3],[3.96,2],[4,2],[4.45,4],[4.54,16],[4.63,58],[4.71,106],[4.76,74],[4.84,29],[4.91,4],[4.96,3],[5,3],[5.51,4],[5.58,45],[5.67,50],[5.73,48],[5.76,66],[5.8,62],[5.86,33],[5.91,8],[5.96,4],[6,4],[6.5,5],[6.7,8],[6.96,5],[7,5],[7.75,8],[7.78,41],[7.83,64],[7.88,37],[7.93,8],[7.97,4],[8,5],[8.5,6],[8.75,12],[8.85,10],[8.96,8],[9,8],[9.1,5],[9.96,4],[10,4],[10.96,4],[11,4],[11.96,3],[12,3],[12.8,6],[12.87,9],[12.96,12],[13,12],[13.1,10],[13.21,4],[13.44,2],[13.49,null],[13.53,2],[13.82,4],[13.89,16.5],[13.96,27],[14,14],[14.03,33],[14.08,78.5],[14.12,37],[14.16,37],[14.2,8],[14.27,2],[14.8,5],[14.9,16],[14.96,10],[15,10],[15.07,14],[15.15,4],[15.96,3],[16,3],[16.88,4],[16.96,16.5]];
const cresMontDay2 = [[1,2],[1.96,2],[2,2],[2.4,2],[2.46,21],[2.54,21],[2.69,18],[2.76,8],[2.85,2],[2.96,2],[3,2],[3.5,4],[3.61,16],[3.72,37],[3.75,45],[3.82,3],[3.96,2],[4,2],[4.49,12],[4.6,20],[4.69,37],[4.76,20],[4.88,4],[4.96,3],[5,3],[5.56,4],[5.62,12],[5.69,18],[5.76,12],[5.86,4],[5.96,3],[6,3],[6.6,6],[6.96,5],[7,5],[7.8,6],[7.97,4],[8,5],[8.7,14],[8.85,8],[8.96,6],[9,6],[9.96,4],[10,4],[10.96,4],[11,3],[11.96,3],[12,3],[12.9,4],[12.96,4],[13,4],[13.44,2],[13.49,null],[13.53,2],[13.96,4],[14,14],[14.05,18],[14.12,21],[14.2,21],[14.3,14],[14.6,14],[14.92,14],[14.96,14],[15,12],[15.05,14],[15.15,4],[15.96,3]];

// OLE (x10^-3 ppmV)
const oleBcn = [[0,8.1],[0.05,7],[0.11,1.4],[0.14,1],[0.2,6],[0.245,17.8],[0.29,14.8],[0.34,15.6],[0.38,16.2],[0.415,6.7],[0.48,6.3],[0.59,4.5],[0.66,5.7],[0.75,16.2],[0.79,8.1],[0.83,20.2],[0.9,7],[1.0,2.6],[1.09,1],[1.16,1.4],[1.28,4],[1.33,4.7],[1.37,13.2],[1.42,9.1],[1.54,8.5],[1.61,9.5],[1.68,17.2],[1.75,42.5],[1.8,44.5],[1.83,44.5],[1.87,27.3],[1.94,12.1],[2.02,6],[2.09,5.5],[2.17,4],[2.21,8.1],[2.29,12.1],[2.33,4.7],[2.43,4],[2.65,4],[2.75,17.2],[2.8,7],[2.91,4.7],[3.02,1.4],[3.17,1.4],[3.21,4],[3.32,93.5],[3.37,66.8],[3.42,28.3],[3.47,17.2],[3.52,12.1],[3.6,8.1],[3.65,11.1],[3.71,24.3],[3.79,39.5],[3.85,11.1],[3.93,8.1],[3.99,12.1],[4.08,28.3],[4.13,16.2],[4.19,13.2],[4.3,14.2],[4.34,11.1],[4.38,20.2],[4.41,17.2],[4.47,7],[4.58,5],[4.67,10],[4.76,37.4],[4.84,47.6],[4.88,44.5],[4.92,28.3],[4.99,23.3],[5.03,23.3],[5.09,10],[5.13,8.1],[5.17,12.8],[5.25,6],[5.34,13.2],[5.4,15.2],[5.46,29.8],[5.49,10.5],[5.56,8.1],[5.65,8.7],[5.71,13.2],[5.75,12.1],[5.8,8.1],[5.86,10],[5.91,6],[6.0,31.4],[6.06,21.3],[6.12,5],[6.17,11.1],[6.21,7],[6.24,17.2],[6.29,36.4],[6.33,16.2],[6.37,15.6],[6.42,17.2],[6.47,12.1],[6.54,10.7],[6.6,11.1],[6.66,18.2],[6.7,29.4],[6.75,57.7],[6.79,31.4],[6.84,13.2],[6.89,10],[6.96,2.6],[7.04,9.5],[7.12,6],[7.18,7],[7.27,21.3],[7.33,31.8],[7.4,24.3],[7.45,15.2],[7.5,11.1],[7.6,10.7],[7.69,12.1],[7.74,31.8],[7.78,32.2],[7.84,14.2],[7.9,10],[7.95,4.7],[8.04,12.1],[8.12,11.1],[8.2,19.2],[8.25,36.4],[8.29,36.4],[8.34,31.4],[8.39,14.2],[8.45,6],[8.53,4.7],[8.6,4],[8.67,9.1],[8.71,16.2],[8.74,23.7],[8.78,4],[8.9,2.6],[8.99,1],[9.12,1],[9.23,4],[9.29,12.8],[9.34,12.1],[9.38,4],[9.48,3],[9.57,3],[9.62,3],[9.66,6.7],[9.7,2],[9.75,3.4],[9.79,1.4],[10.01,0.6],[10.16,1],[10.29,2],[10.38,2],[10.52,2],[10.59,3],[10.68,5],[10.72,4.7],[10.77,2],[10.9,1.4],[11.05,1],[11.16,1],[11.21,3],[11.25,2],[11.29,4],[11.34,10],[11.38,9.5],[11.42,6],[11.49,8.1],[11.55,5.7],[11.59,5],[11.64,10],[11.7,20.2],[11.74,20.2],[11.78,30.4],[11.83,17.2],[11.87,12.1],[11.91,20.9],[11.96,5],[12.0,5],[12.04,1],[12.19,0.6],[12.25,1],[12.38,0.6],[12.5,0],[13.0,0],[13.04,7],[13.1,5.5],[13.16,8.1],[13.24,30.4],[13.29,17.2],[13.36,8.1],[13.4,7],[13.46,7.5],[13.53,4],[13.61,8.1],[13.67,9.5],[13.71,15.2],[13.76,15.6],[13.79,21.7],[13.84,15.2],[13.9,16.2],[13.95,4],[14.05,4],[14.12,2.6],[14.18,2],[14.25,9.1],[14.29,6],[14.33,9.1],[14.39,5],[14.5,5],[14.61,4.5],[14.67,6],[14.73,17.2],[14.78,42.5],[14.82,5],[14.87,5],[14.91,46],[14.95,21.3],[15.0,1.4],[15.14,1],[15.26,6.7],[15.29,5.5],[15.33,12.1],[15.39,6],[15.48,5],[15.58,5.7],[15.66,9.5],[15.71,17.2],[15.75,31.4],[15.79,9.1],[15.86,5],[15.95,11.5],[16.0,2],[16.12,1],[16.2,5],[16.25,7],[16.33,34.4],[16.38,13.2],[16.44,7],[16.54,6.7],[16.6,6],[16.65,7.5],[16.71,12.1],[16.79,26.9],[16.86,4],[16.92,1.4],[16.96,1]];
const oleMont = [[0,0.3],[3.7,0.3],[3.78,0.6],[3.85,0.3],[13.45,0.3],[13.49,null],[13.53,0.3],[16.96,0.3]];

// ---------------- HELPERS ----------------
const START = Date.UTC(2009, 1, 25);
function toDate(d) { return new Date(START + d * 86400000).toISOString().slice(0, 19).replace('T', ' '); }
// Chain the daily 48-h model runs: run k = first-day values of day k + second-day values of day k+1
function chainRuns(day1, day2) {
  const out = [];
  const last = Math.floor(day1[day1.length - 1][0]);
  for (let k = 0; k <= last; k++) {
    day1.forEach(p => { if (Math.floor(p[0]) === k) out.push(p); });
    day2.forEach(p => { if (Math.floor(p[0]) === k + 1) out.push(p); });
  }
  return out;
}

const RED = 'rgb(255,0,0)', BLUE = 'rgb(0,0,255)';
const SANS = '"Liberation Sans", Arial, Helvetica, sans-serif';

const panels = [
  { red: chainRuns(isoMontDay1, isoMontDay2), blue: isoBcn },
  { red: tolMont, blue: tolBcn },
  { red: chainRuns(terpMontDay1, terpMontDay2), blue: terpBcn },
  { red: chainRuns(cresMontDay1, cresMontDay2), blue: cresBcn },
  { red: oleMont, blue: oleBcn }
];

const traces = [];
panels.forEach((p, i) => {
  const ya = i === 0 ? 'y' : 'y' + (i + 1);
  traces.push({ type: 'scatter', mode: 'lines', name: seriesNames[0], showlegend: i === 0, legend: 'legend',
    x: p.red.map(q => toDate(q[0])), y: p.red.map(q => q[1]), xaxis: 'x', yaxis: ya,
    line: { color: RED, width: 3.5, simplify: false }, connectgaps: false, hoverinfo: 'skip' });
  traces.push({ type: 'scatter', mode: 'lines', name: seriesNames[1], showlegend: i === 0, legend: 'legend2',
    x: p.blue.map(q => toDate(q[0])), y: p.blue.map(q => q[1]), xaxis: 'x', yaxis: ya,
    line: { color: BLUE, width: 3.5, simplify: false }, hoverinfo: 'skip' });
});

// ---------------- LAYOUT ----------------
const PH = 1004; // plot-area height in px
function dom(pxBottom, pxTop) { return [(PH - pxBottom) / PH, (PH - pxTop) / PH]; }
function yax(domain, range, tickvals, ticktext, fsize) {
  return {
    domain: domain, range: range, anchor: 'x', fixedrange: true,
    showline: true, linecolor: 'black', linewidth: 2,
    ticks: 'outside', ticklen: 20, tickwidth: 2, tickcolor: 'black', ticklabelstandoff: 4,
    tickmode: 'array', tickvals: tickvals, ticktext: ticktext,
    tickfont: { family: SANS, size: fsize || 28, color: 'black' },
    showgrid: false, zeroline: true, zerolinecolor: 'black', zerolinewidth: 2
  };
}

const shapes = [];
for (let d = 1; d < dayTicks.length; d++) {
  shapes.push({ type: 'line', xref: 'x', yref: 'paper', x0: toDate(d), x1: toDate(d),
    y0: (PH - 994) / PH, y1: (PH - 24) / PH, layer: 'below',
    line: { color: 'rgb(120,120,255)', width: 1, dash: '4px,3px' } });
}

function lbl(text, xp, yp, opts) {
  return Object.assign({ text: text, xref: 'paper', yref: 'paper', x: xp, y: yp,
    xanchor: 'left', yanchor: 'middle', showarrow: false, bgcolor: 'white', borderpad: 1,
    font: { family: SANS, size: 29, color: 'black' } }, opts || {});
}
const sideFont = { family: SANS, size: 29, color: 'black' };
const annotations = [
  lbl('<b>' + panelNames[0] + '</b>', 0.0035, (PH - 41) / PH),
  lbl('<b>' + panelNames[1] + '</b>', 0.0035, (PH - 253) / PH),
  lbl('<b>' + panelNames[2] + '</b>', 0.0035, (PH - 444) / PH),
  lbl('<b>' + panelNames[3] + '</b>', 0.0065, (PH - 635) / PH),
  lbl('<b>' + panelNames[4] + '</b>', 0.0035, (PH - 830) / PH),
  lbl('<b>Model comparison</b>', (1489 - 156) / 1690, (PH - 42) / PH, { xanchor: 'center', font: { family: SANS, size: 37, color: 'black' } }),
  lbl('x10<sup>-6</sup>', (78 - 156) / 1690, (PH - 131) / PH, { xanchor: 'center', textangle: -90, bgcolor: 'rgba(0,0,0,0)', font: sideFont }),
  lbl('x10<sup>-6</sup>', (78 - 156) / 1690, (PH - 522) / PH, { xanchor: 'center', textangle: -90, bgcolor: 'rgba(0,0,0,0)', font: sideFont }),
  lbl('x10<sup>-6</sup>', (78 - 156) / 1690, (PH - 716) / PH, { xanchor: 'center', textangle: -90, bgcolor: 'rgba(0,0,0,0)', font: sideFont }),
  lbl('<b>ppmV</b>', (32 - 156) / 1690, (PH - 556) / PH, { xanchor: 'center', textangle: -90, bgcolor: 'rgba(0,0,0,0)', font: { family: SANS, size: 36, color: 'black' } }),
  lbl('dat', (1001 - 156) / 1690, (PH - 1265) / PH, { xanchor: 'center', bgcolor: 'rgba(0,0,0,0)', font: { family: SANS, size: 27, color: 'black' } })
];

const legendBase = { xanchor: 'left', yanchor: 'top', bgcolor: 'rgba(0,0,0,0)',
  font: { family: SANS, size: 29, color: 'black' }, itemwidth: 56, tracegroupgap: 0 };

const layout = {
  width: 1896, height: 1284,
  margin: { l: 156, r: 50, t: 0, b: 280, pad: 0 },
  paper_bgcolor: 'white', plot_bgcolor: 'rgba(0,0,0,0)',
  showlegend: true,
  legend: Object.assign({ x: (1688 - 156) / 1690, y: 1.0 }, legendBase),
  legend2: Object.assign({ x: (1688 - 156) / 1690, y: (PH - 36) / PH }, legendBase),
  xaxis: {
    type: 'date', range: [toDate(0), toDate(16.95)], anchor: 'free', position: 0, fixedrange: true,
    showline: true, linecolor: 'black', linewidth: 2,
    ticks: 'outside', ticklen: 18, tickwidth: 2, tickcolor: 'black',
    tickmode: 'array', tickvals: dayTicks.map((t, i) => toDate(i)), ticktext: dayTicks,
    tickangle: -90, tickfont: { family: SANS, size: 30, color: 'black' },
    showgrid: false, zeroline: false
  },
  yaxis:  yax(dom(221.4, 24),  [-0.15, 21.6],  [0, 10, 20], ['0', '10', '20']),
  yaxis2: yax(dom(413.3, 237.8), [-0.001, 0.131], [0, 0.05, 0.1], ['0.00', '0.05', '0.10']),
  yaxis3: yax(dom(608.4, 432), [-1.2, 150], [0, 50, 100, 150], ['0', '50', '100', '150']),
  yaxis4: yax(dom(800.4, 628), [-3, 380], [0, 200], ['0', '200']),
  yaxis5: yax(dom(995.5, 819.6), [-0.8, 93], [0, 20, 40, 60, 80], ['0', '20', '40', '60', '80x10\u207B\u00B3'], 24),
  shapes: shapes,
  annotations: annotations
};

Plotly.newPlot('chart', traces, layout, { staticPlot: true, displayModeBar: false });
</script>
</body></html>
